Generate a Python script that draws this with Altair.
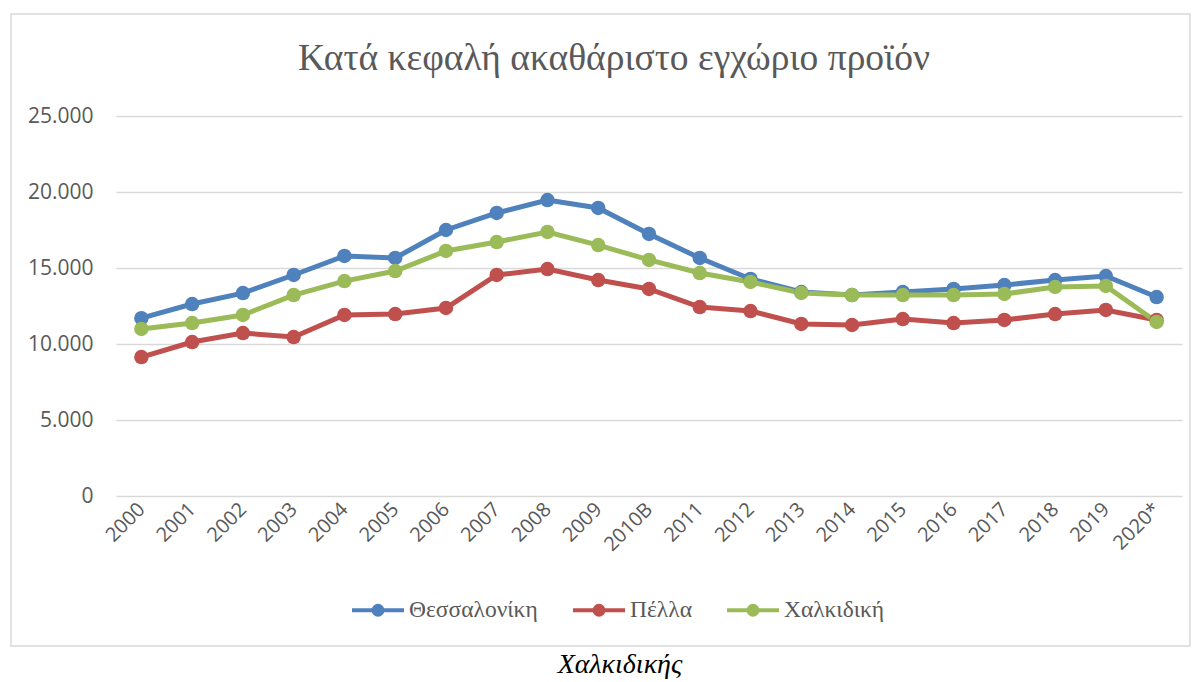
import altair as alt
import pandas as pd

years = ["2000", "2001", "2002", "2003", "2004", "2005", "2006", "2007", "2008", "2009",
         "2010B", "2011", "2012", "2013", "2014", "2015", "2016", "2017", "2018", "2019", "2020*"]
series_names = ["Θεσσαλονίκη", "Πέλλα", "Χαλκιδική"]
thessaloniki = [11700, 12630, 13350, 14540, 15790, 15660, 17500, 18620, 19470, 18950,
                17240, 15660, 14280, 13420, 13220, 13420, 13620, 13880, 14210, 14470, 13090]
pella = [9140, 10130, 10720, 10460, 11910, 11970, 12370, 14540, 14930, 14210,
         13620, 12430, 12170, 11320, 11250, 11640, 11380, 11580, 11970, 12240, 11580]
chalkidiki = [10990, 11380, 11910, 13220, 14140, 14800, 16120, 16710, 17370, 16510,
              15530, 14670, 14080, 13360, 13220, 13220, 13220, 13290, 13750, 13820, 11450]
colors = ["#4f81bd", "#c0504d", "#9bbb59"]
title_text = "Κατά κεφαλή ακαθάριστο εγχώριο προϊόν"
caption_text = "Χαλκιδικής"

rows = []
for name, vals in zip(series_names, [thessaloniki, pella, chalkidiki]):
    for y, v in zip(years, vals):
        rows.append({"year": y, "series": name, "value": v})
df = pd.DataFrame(rows)

W, H = 1066, 380
PADL, PADT = 108, 108
OX, OY = 8 + PADL, 8 + PADT  # plot origin on the page

# legend symbol: line with a filled dot (concentric circles)
def circ(r):
    return f"M{-r},0a{r},{r} 0 1,0 {2*r},0a{r},{r} 0 1,0 {-2*r},0"
sym = "M-1,0L1,0" + circ(0.17) + circ(0.1) + circ(0.03)

color = alt.Color(
    "series:N",
    scale=alt.Scale(domain=series_names, range=colors),
    sort=series_names,
    legend=alt.Legend(
        title=None, orient="none", direction="horizontal", columns=3,
        legendX=234, legendY=466,
        symbolType=sym, symbolSize=2704, symbolStrokeWidth=4,
        labelFont="Liberation Serif", labelFontSize=23.5, labelColor="#595959",
        columnPadding=27, labelOffset=3, labelLimit=300,
    ),
)

x = alt.X("year:N", sort=years, title=None,
          scale=alt.Scale(domain=years, padding=0.5),
          axis=alt.Axis(labelAngle=-45, labelAlign="right", labelBaseline="middle",
                        labelFont="Open Sans", labelFontSize=20, labelColor="#595959",
                        ticks=False, domain=False, labelPadding=10, grid=False))
y = alt.Y("value:Q", title=None,
          scale=alt.Scale(domain=[0, 25000], nice=False),
          axis=alt.Axis(values=[0, 5000, 10000, 15000, 20000, 25000],
                        labelExpr="replace(format(datum.value, ','), ',', '.')",
                        labelFont="Open Sans", labelFontSize=21, labelColor="#595959",
                        ticks=False, domain=False, labelPadding=23,
                        grid=True, gridColor="#d9d9d9", gridWidth=1.5))

base = alt.Chart(df)
lines = base.mark_line(strokeWidth=5).encode(x=x, y=y, color=color)
points = base.mark_point(filled=True, size=210, opacity=1).encode(
    x=x, y=y, color=alt.Color("series:N", scale=alt.Scale(domain=series_names, range=colors), legend=None))

border = alt.Chart(pd.DataFrame({"a": [0]})).mark_rect(
    fill=None, stroke="#d9d9d9", strokeWidth=1.5).encode(
    x=alt.value(11 - OX), x2=alt.value(1190 - OX),
    y=alt.value(14 - OY), y2=alt.value(646 - OY))

title = alt.Chart(pd.DataFrame({"t": [title_text]})).mark_text(
    font="Liberation Serif", fontSize=37.5, color="#595959",
    align="center", baseline="alphabetic").encode(
    text="t:N", x=alt.value(614 - OX), y=alt.value(70 - OY))

caption = alt.Chart(pd.DataFrame({"t": [caption_text]})).mark_text(
    font="Liberation Serif", fontSize=28, fontStyle="italic", color="#000000",
    align="center", baseline="alphabetic").encode(
    text="t:N", x=alt.value(620 - OX), y=alt.value(673 - OY))

chart = alt.layer(border, lines, points, title, caption).properties(
    width=W, height=H,
    background="white",
    padding={"left": PADL, "top": PADT, "right": 10, "bottom": 200},
    autosize=alt.AutoSizeParams(type="none"),
).configure_view(stroke="transparent", strokeWidth=0)

chart.save("out.html", embed_options={"renderer": "svg", "actions": False})
